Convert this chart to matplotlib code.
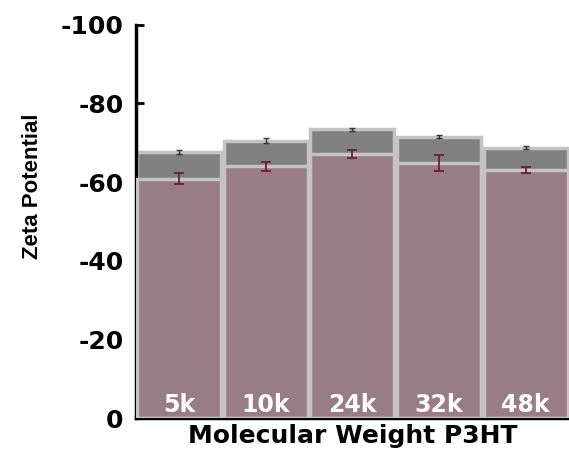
import numpy as np
import matplotlib
matplotlib.use('Agg')
import matplotlib.pyplot as plt

# data
labels = ['5k', '10k', '24k', '32k', '48k']
total_zeta = [-67.7, -70.5, -73.4, -71.5, -68.8]
total_err = [0.5, 0.6, 0.4, 0.4, 0.5]
zeta = [-60.9, -64.0, -67.2, -64.9, -63.0]
zeta_err = [1.4, 1.2, 1.0, 2.0, 0.8]

plt.rcParams['font.family'] = ['DejaVu Sans']
plt.rcParams['axes.unicode_minus'] = False

fig = plt.figure(figsize=(5.69, 4.51), dpi=100)
ax = fig.add_axes([0.239, 0.073, 0.761, 0.872])

x = np.arange(1, len(labels) + 1)
ax.bar(x, total_zeta, width=0.97, color='#808080', edgecolor='#c4c4c4', linewidth=2.5, zorder=1)
ax.errorbar(x, total_zeta, yerr=total_err, fmt='none', ecolor='#333333',
            elinewidth=1, capsize=2.5, capthick=1, zorder=2)
ax.bar(x, zeta, width=0.97, color='#987d87', edgecolor='#c4c4c4', linewidth=2.5, zorder=3)
ax.errorbar(x, zeta, yerr=zeta_err, fmt='none', ecolor='#6a1c38',
            elinewidth=1.3, capsize=3.5, capthick=1.3, zorder=4)

for xi, lab in zip(x, labels):
    ax.text(xi, -3.3, lab, ha='center', va='center', color='white',
            fontsize=17, fontweight='bold', zorder=5)

ax.set_xlim(0.5, 5.5)
ax.set_ylim(0, -100)
ax.set_yticks([0, -20, -40, -60, -80, -100])
ax.set_xticks(x[:-1] + 0.5)
ax.set_xticklabels([])
ax.tick_params(axis='y', direction='in', length=6, width=2, labelsize=18, pad=9)
ax.tick_params(axis='x', direction='in', length=4, width=2)
for t in ax.get_yticklabels():
    t.set_fontweight('bold')

ax.spines['top'].set_visible(False)
ax.spines['right'].set_visible(False)
ax.spines['left'].set_linewidth(2.5)
ax.spines['bottom'].set_linewidth(2.5)

ax.set_xlabel('Molecular Weight P3HT', fontsize=18, fontweight='bold', labelpad=1)
ax.set_ylabel('Zeta Potential', fontsize=16, fontweight='bold',
              family=['Liberation Sans'])
ax.yaxis.set_label_coords(-0.215, 0.59)

plt.savefig('out.png', dpi=100)
